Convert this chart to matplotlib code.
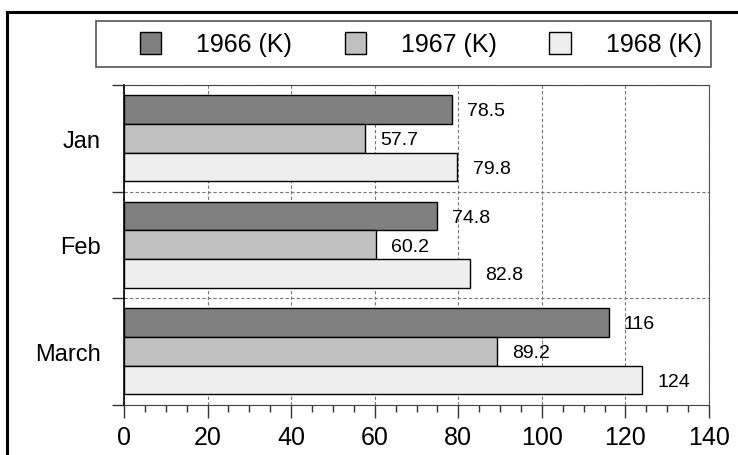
import numpy as np
import matplotlib
matplotlib.use("Agg")
import matplotlib.pyplot as plt
from matplotlib.patches import Rectangle
from matplotlib.ticker import MultipleLocator, FixedLocator

plt.rcParams['font.family'] = ['Liberation Sans', 'DejaVu Sans']

months = ['Jan', 'Feb', 'March']
series = ['1966 (K)', '1967 (K)', '1968 (K)']
v1966 = [78.5, 74.8, 116]
v1967 = [57.7, 60.2, 89.2]
v1968 = [79.8, 82.8, 124]
labels1966 = ['78.5', '74.8', '116']
labels1967 = ['57.7', '60.2', '89.2']
labels1968 = ['79.8', '82.8', '124']

colors = ['#808080', '#c0c0c0', '#eeeeee']

fig = plt.figure(figsize=(7.38, 4.56), dpi=100)
ax = fig.add_axes([124/738, 1 - 405.5/456, (709 - 124)/738, (405.5 - 86)/456])

y = np.arange(len(months))
h = 0.27
all_vals = [v1966, v1967, v1968]
all_labels = [labels1966, labels1967, labels1968]
for k, (vals, labs) in enumerate(zip(all_vals, all_labels)):
    pos = y + (k - 1) * h
    ax.barh(pos, vals, height=h, color=colors[k], edgecolor='black',
            linewidth=1, label=series[k], zorder=3)
    for p, v, t in zip(pos, vals, labs):
        ax.annotate(t, (v, p), xytext=(11, -1), textcoords='offset points',
                    ha='left', va='center', fontsize=14, zorder=4)

ax.set_xlim(0, 140)
ax.set_ylim(2.5, -0.5)

ax.xaxis.set_major_locator(MultipleLocator(20))
ax.xaxis.set_minor_locator(MultipleLocator(5))
ax.tick_params(axis='x', which='major', length=9, width=1, labelsize=18, pad=6, color='#333333')
ax.tick_params(axis='x', which='minor', length=5, width=1, color='#333333')

ax.yaxis.set_major_locator(FixedLocator([-0.5, 0.5, 1.5, 2.5]))
ax.yaxis.set_minor_locator(FixedLocator(y))
ax.yaxis.set_minor_formatter(plt.FixedFormatter(months))
ax.yaxis.set_major_formatter(plt.NullFormatter())
ax.tick_params(axis='y', which='major', length=9, width=1, color='#333333')
ax.tick_params(axis='y', which='minor', length=0, labelsize=17, pad=17)

ax.grid(axis='x', which='major', linestyle=(0, (3, 2)), color='#777777', linewidth=0.8, zorder=0)
ax.grid(axis='y', which='major', linestyle=(0, (3, 2)), color='#777777', linewidth=0.8, zorder=0)

ax.spines['left'].set_color('black')
ax.spines['left'].set_linewidth(1.2)
ax.spines['bottom'].set_color('#444444')
ax.spines['right'].set_color('#555555')
ax.spines['top'].set_color('#444444')

# legend frame drawn separately, legend entries placed inside it
fig.patches.append(Rectangle((96/738, 1 - 68/456), (711 - 96)/738, 46/456,
                             transform=fig.transFigure, fill=False,
                             edgecolor='#555555', linewidth=1.2))
leg = fig.legend(loc='center left', bbox_to_anchor=(140/738, 1 - 45/456),
                 ncol=3, fontsize=18, frameon=False,
                 handlelength=0.85, handleheight=1.0, handletextpad=1.4,
                 columnspacing=2.1, borderpad=0, borderaxespad=0)

# outer border (only top and left edges fall inside the image)
fig.patches.append(Rectangle((7/738, -0.2), 1.2, 1.2 - 13/456,
                             transform=fig.transFigure, fill=False,
                             edgecolor='black', linewidth=2.2))

fig.savefig('out.png', dpi=100)
